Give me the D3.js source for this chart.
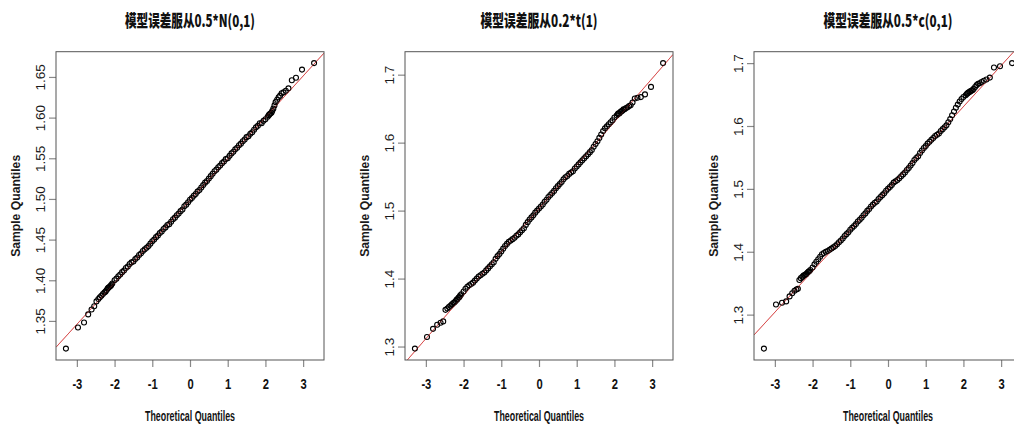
<!DOCTYPE html>
<html>
<head>
<meta charset="utf-8">
<script src="https://cdn.jsdelivr.net/npm/d3@7"></script>
<style>
    body { margin: 0; background: #fff; }
</style>
</head>
<body>
<div id="chart"></div>
<script>
// theoretical quantiles (n = 1000, same for all three panels)
let theoretical = [
    -3.29, -2.97, -2.81, -2.70, -2.61, -2.54, -2.48, -2.43, -2.39, -2.35,
    -2.31, -2.27, -2.24, -2.21, -2.18, -2.16, -2.13, -2.11, -2.09, -2.06,
    -2.00, -1.95, -1.90, -1.85, -1.80, -1.75, -1.70, -1.65, -1.60, -1.55,
    -1.50, -1.45, -1.40, -1.35, -1.30, -1.25, -1.20, -1.15, -1.10, -1.05,
    -1.00, -0.95, -0.90, -0.85, -0.80, -0.75, -0.70, -0.65, -0.60, -0.55,
    -0.50, -0.45, -0.40, -0.35, -0.30, -0.25, -0.20, -0.15, -0.10, -0.05,
    0.00,
    0.05, 0.10, 0.15, 0.20, 0.25, 0.30, 0.35, 0.40, 0.45, 0.50,
    0.55, 0.60, 0.65, 0.70, 0.75, 0.80, 0.85, 0.90, 0.95, 1.00,
    1.05, 1.10, 1.15, 1.20, 1.25, 1.30, 1.35, 1.40, 1.45, 1.50,
    1.55, 1.60, 1.65, 1.70, 1.75, 1.80, 1.85, 1.90, 1.95, 2.00,
    2.06, 2.09, 2.11, 2.13, 2.16, 2.18, 2.21, 2.24, 2.27, 2.31,
    2.35, 2.39, 2.43, 2.48, 2.54, 2.61, 2.70, 2.81, 2.97, 3.29
];

// sample quantiles
let sampleN = [
    1.316, 1.342, 1.348, 1.358, 1.364, 1.368, 1.374, 1.377, 1.379, 1.381,
    1.383, 1.385, 1.386, 1.388, 1.390, 1.391, 1.392, 1.393, 1.394, 1.396,
    1.400, 1.402, 1.405, 1.407, 1.410, 1.412, 1.415, 1.417, 1.420, 1.422,
    1.423, 1.426, 1.428, 1.431, 1.433, 1.436, 1.438, 1.440, 1.442, 1.445,
    1.448, 1.450, 1.453, 1.455, 1.458, 1.460, 1.463, 1.465, 1.468, 1.469,
    1.472, 1.475, 1.477, 1.480, 1.482, 1.485, 1.487, 1.491, 1.493, 1.496,
    1.499,
    1.501, 1.504, 1.506, 1.509, 1.511, 1.514, 1.517, 1.520, 1.522, 1.525,
    1.528, 1.531, 1.534, 1.536, 1.539, 1.541, 1.544, 1.546, 1.549, 1.550,
    1.553, 1.556, 1.558, 1.561, 1.563, 1.566, 1.568, 1.571, 1.573, 1.576,
    1.577, 1.580, 1.582, 1.585, 1.588, 1.590, 1.593, 1.593, 1.596, 1.598,
    1.601, 1.603, 1.604, 1.605, 1.606, 1.608, 1.611, 1.615, 1.619, 1.622,
    1.625, 1.627, 1.630, 1.631, 1.633, 1.636, 1.646, 1.649, 1.659, 1.667
];

let sampleT = [
    1.297, 1.314, 1.326, 1.332, 1.335, 1.337, 1.354, 1.356, 1.358, 1.360,
    1.362, 1.364, 1.365, 1.367, 1.369, 1.370, 1.372, 1.373, 1.375, 1.377,
    1.381, 1.385, 1.388, 1.390, 1.392, 1.394, 1.397, 1.400, 1.403, 1.405,
    1.407, 1.409, 1.412, 1.415, 1.418, 1.421, 1.424, 1.429, 1.433, 1.436,
    1.440, 1.444, 1.448, 1.451, 1.454, 1.456, 1.458, 1.460, 1.463, 1.465,
    1.468, 1.471, 1.474, 1.479, 1.483, 1.487, 1.490, 1.493, 1.497, 1.500,
    1.503,
    1.506, 1.509, 1.513, 1.516, 1.520, 1.523, 1.526, 1.529, 1.533, 1.536,
    1.539, 1.542, 1.546, 1.549, 1.551, 1.554, 1.556, 1.558, 1.562, 1.565,
    1.568, 1.571, 1.574, 1.577, 1.580, 1.583, 1.586, 1.589, 1.594, 1.598,
    1.602, 1.607, 1.612, 1.617, 1.621, 1.624, 1.627, 1.630, 1.633, 1.637,
    1.640, 1.642, 1.643, 1.643, 1.645, 1.646, 1.647, 1.649, 1.649, 1.651,
    1.652, 1.654, 1.655, 1.659, 1.665, 1.666, 1.667, 1.671, 1.682, 1.717
];

let sampleC = [
    1.246, 1.316, 1.319, 1.321, 1.329, 1.334, 1.338, 1.340, 1.341, 1.355,
    1.358, 1.360, 1.362, 1.363, 1.364, 1.365, 1.367, 1.368, 1.369, 1.371,
    1.375, 1.380, 1.384, 1.388, 1.392, 1.396, 1.398, 1.400, 1.401, 1.403,
    1.405, 1.407, 1.409, 1.412, 1.415, 1.418, 1.421, 1.425, 1.428, 1.431,
    1.435, 1.438, 1.441, 1.444, 1.448, 1.451, 1.454, 1.458, 1.461, 1.465,
    1.468, 1.472, 1.475, 1.478, 1.480, 1.484, 1.487, 1.490, 1.493, 1.497,
    1.500,
    1.503, 1.506, 1.510, 1.512, 1.514, 1.517, 1.520, 1.523, 1.526, 1.530,
    1.533, 1.537, 1.541, 1.546, 1.549, 1.552, 1.557, 1.561, 1.565, 1.568,
    1.572, 1.575, 1.578, 1.581, 1.584, 1.586, 1.588, 1.592, 1.595, 1.598,
    1.601, 1.606, 1.611, 1.617, 1.623, 1.629, 1.634, 1.639, 1.643, 1.646,
    1.649, 1.651, 1.652, 1.653, 1.654, 1.655, 1.656, 1.657, 1.659, 1.662,
    1.665, 1.667, 1.668, 1.670, 1.672, 1.674, 1.677, 1.693, 1.695, 1.700
];

// qqline: intercept and slope for each panel
let qqLineN = [1.4985, 0.0509];
let qqLineT = [1.503, 0.0638];
let qqLineC = [1.500, 0.0654];

let titles = ["模型误差服从0.5*N(0,1)", "模型误差服从0.2*t(1)", "模型误差服从0.5*c(0,1)"];
let xTicks = [-3, -2, -1, 0, 1, 2, 3];
let yTicksN = [1.35, 1.40, 1.45, 1.50, 1.55, 1.60, 1.65];
let yTicksT = [1.3, 1.4, 1.5, 1.6, 1.7];
let yTicksC = [1.3, 1.4, 1.5, 1.6, 1.7];

let panels = [
    {title: titles[0], sample: sampleN, line: qqLineN, ticks: yTicksN, fmt: ".2f", titleWidth: 130},
    {title: titles[1], sample: sampleT, line: qqLineT, ticks: yTicksT, fmt: ".1f", titleWidth: 117},
    {title: titles[2], sample: sampleC, line: qqLineC, ticks: yTicksC, fmt: ".1f", titleWidth: 129}
];

// layout
let svgWidth = 1014;
let svgHeight = 425;
let margin = {top: 51.7, left: 56};
let panelStep = 349;
let width = 268;
let height = 308.3;

var svg = d3.select("#chart")
    .append("svg")
    .attr("width", svgWidth)
    .attr("height", svgHeight);

// R style range with 4% padding on each side
function padRange(values) {
    var ext = d3.extent(values);
    var pad = (ext[1] - ext[0]) * 0.04;
    return [ext[0] - pad, ext[1] + pad];
}

panels.forEach(function(p, i) {
    var g = svg.append("g")
        .attr("transform", `translate(${margin.left + panelStep * i}, ${margin.top})`);

    var x = d3.scaleLinear().domain(padRange(theoretical)).range([0, width]);
    var y = d3.scaleLinear().domain(padRange(p.sample)).range([height, 0]);

    g.append("clipPath")
        .attr("id", "clip" + i)
        .append("rect")
        .attr("width", width)
        .attr("height", height);

    // x axis
    var xAxis = g.append("g")
        .attr("transform", `translate(0, ${height})`)
        .call(d3.axisBottom(x).tickValues(xTicks).tickSize(7).tickFormat(d => String(d)));
    xAxis.select(".domain").remove();
    xAxis.selectAll("line").attr("stroke", "#888").attr("stroke-width", 1.2);
    xAxis.selectAll("text")
        .attr("y", 29)
        .attr("dy", null)
        .attr("transform", "scale(0.8,1)")
        .attr("fill", "#111")
        .style("font-family", "'Liberation Sans', Arial, sans-serif")
        .style("font-size", "14px")
        .style("font-weight", "bold");

    // y axis
    var yAxis = g.append("g")
        .call(d3.axisLeft(y).tickValues(p.ticks).tickSize(7).tickFormat(d3.format(p.fmt)));
    yAxis.select(".domain").remove();
    yAxis.selectAll("line").attr("stroke", "#888").attr("stroke-width", 1.2);
    yAxis.selectAll("text")
        .attr("x", null)
        .attr("dy", null)
        .attr("transform", "translate(-11.5,0) rotate(-90)")
        .attr("text-anchor", "middle")
        .attr("fill", "#1a1a1a")
        .style("font-family", "'Liberation Sans', Arial, sans-serif")
        .style("font-size", "13.5px");

    // qq line
    var dom = x.domain();
    g.append("line")
        .attr("clip-path", `url(#clip${i})`)
        .attr("x1", x(dom[0]))
        .attr("y1", y(p.line[0] + p.line[1] * dom[0]))
        .attr("x2", x(dom[1]))
        .attr("y2", y(p.line[0] + p.line[1] * dom[1]))
        .attr("stroke", "#e04848")
        .attr("stroke-width", 0.9);

    // points
    g.selectAll("circle")
        .data(p.sample)
        .enter()
        .append("circle")
        .attr("cx", (d, j) => x(theoretical[j]))
        .attr("cy", d => y(d))
        .attr("r", 2.5)
        .attr("fill", "none")
        .attr("stroke", "#000")
        .attr("stroke-width", 1.1);

    // red line shows through the dense band, as in the original
    g.append("line")
        .attr("clip-path", `url(#clip${i})`)
        .attr("x1", x(dom[0]))
        .attr("y1", y(p.line[0] + p.line[1] * dom[0]))
        .attr("x2", x(dom[1]))
        .attr("y2", y(p.line[0] + p.line[1] * dom[1]))
        .attr("stroke", "#c03030")
        .attr("stroke-opacity", 0.35)
        .attr("stroke-width", 0.9);

    // box
    g.append("rect")
        .attr("width", width)
        .attr("height", height)
        .attr("fill", "none")
        .attr("stroke", "#555")
        .attr("stroke-width", 1);

    // title
    g.append("text")
        .attr("x", width / 2)
        .attr("y", 27 - margin.top)
        .attr("text-anchor", "middle")
        .attr("textLength", p.titleWidth)
        .attr("lengthAdjust", "spacingAndGlyphs")
        .attr("fill", "#111")
        .style("font-family", "'Noto Sans CJK SC', sans-serif")
        .style("font-size", "16.5px")
        .style("font-weight", "900")
        .text(p.title);

    // axis labels
    g.append("text")
        .attr("x", width / 2)
        .attr("y", 421 - margin.top)
        .attr("text-anchor", "middle")
        .attr("textLength", 90)
        .attr("lengthAdjust", "spacingAndGlyphs")
        .attr("fill", "#111")
        .style("font-family", "'Liberation Sans', Arial, sans-serif")
        .style("font-size", "14px")
        .style("font-weight", "bold")
        .text("Theoretical Quantiles");

    g.append("text")
        .attr("transform", `translate(-36, ${height / 2}) rotate(-90)`)
        .attr("text-anchor", "middle")
        .attr("textLength", 102)
        .attr("lengthAdjust", "spacingAndGlyphs")
        .attr("fill", "#1a1a1a")
        .style("font-family", "'Liberation Sans', Arial, sans-serif")
        .style("font-size", "12.5px")
        .style("font-weight", "bold")
        .text("Sample Quantiles");
});
</script>
</body>
</html>
